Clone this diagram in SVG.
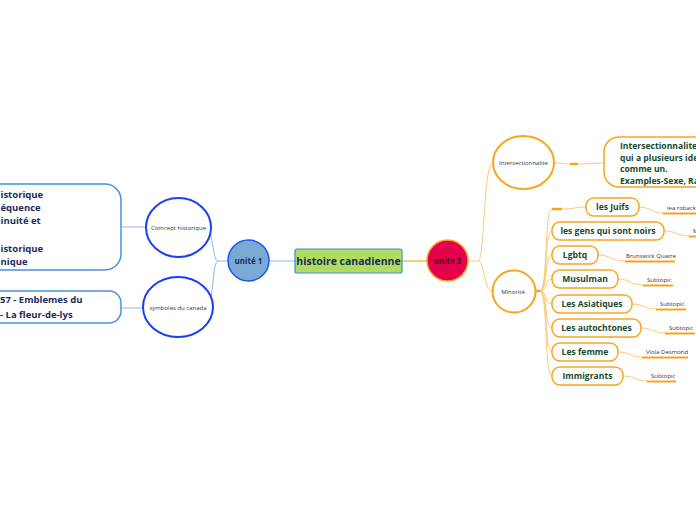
<svg xmlns="http://www.w3.org/2000/svg" width="696" height="520" viewBox="0 0 696 520">
<style>
.t{font-family:"Open Sans","Noto Sans","Liberation Sans",sans-serif}
.navy{fill:#1b2b5c;font-weight:bold}
.grn{fill:#184a2d;font-weight:bold;font-size:8.6px}
.small{fill:#333;font-size:6px}
.bl{fill:none;stroke:#8fb4f2;stroke-width:1}
.or{fill:none;stroke:#fcc878;stroke-width:1}
.orT{fill:none;stroke:#f7a21e;stroke-width:2.5}
.ul{fill:none;stroke:#f7a21e;stroke-width:2}
.ob{fill:#fff;stroke:#f7a520;stroke-width:1.5}
.be{fill:#fff;stroke:#1a3ef5;stroke-width:2}
.lb{fill:#fff;stroke:#4a8fd8;stroke-width:1.5}
</style>
<rect width="696" height="520" fill="#fff"/>
<g id="connectors">
  <path class="bl" d="M270,261 L295,261"/>
  <path class="bl" d="M228,261 L218,261 C212,261 214,228 205,228"/>
  <path class="bl" d="M218,261 C212,261 214,307 206,307"/>
  <path class="bl" d="M121,227 L146,227"/>
  <path class="bl" d="M121,308 L143,308"/>
  <path d="M402,261 L427,261" fill="none" stroke="#f8b450" stroke-width="1.5"/>
  <path class="or" d="M468,261 L478,261 C485,261 483,163 493,163"/>
  <path class="or" d="M478,261 C485,261 483,291 493,291"/>
  <path class="or" d="M554,163 C562,163 562,164 570,164 L578,164 C590,164 594,163 604,163"/>
  <path class="orT" d="M570,164 L578,164" stroke-width="3"/>
  <path class="orT" d="M534,291 L541,291"/>
  <path class="or" d="M540,291 C548,291 544,209 552,209 L562,209 C574,209 576,207 586,207"/>
  <path class="orT" d="M552,209 L562,209"/>
  <path class="or" d="M540,291 C548,291 544,231 552,231"/>
  <path class="or" d="M540,291 C548,291 544,255 552,255"/>
  <path class="or" d="M540,291 C548,291 544,279 552,279"/>
  <path class="or" d="M540,291 C548,291 544,304 552,304"/>
  <path class="or" d="M540,291 C548,291 544,328 552,328"/>
  <path class="or" d="M540,291 C548,291 544,352 552,352"/>
  <path class="or" d="M540,291 C548,291 544,376 552,376"/>
  <path class="or" d="M639,207 C651,207 651,213 663,213"/>
  <path class="or" d="M664,231 C677,231 677,236 689,236"/>
  <path class="or" d="M598,255 C611,255 611,261 625,261"/>
  <path class="or" d="M618,279 C630,279 630,285 643,285"/>
  <path class="or" d="M632,304 C644,304 644,309 656,309"/>
  <path class="or" d="M641,328 C653,328 653,333 665,333"/>
  <path class="or" d="M618,352 C630,352 630,357 642,357"/>
  <path class="or" d="M623,376 C635,376 635,381 647,381"/>
</g>
<g id="central">
  <rect x="295" y="249" width="107" height="24" rx="2" fill="#b0dd5f" stroke="#3b8ed6" stroke-width="1.2"/>
  <text class="t navy" x="348.5" y="264.8" font-size="10.5" text-anchor="middle">histoire canadienne</text>
</g>
<g id="unite1">
  <circle cx="248.5" cy="260.5" r="20.5" fill="#7aa9d3" stroke="#1f55f0" stroke-width="1.5"/>
  <text class="t navy" x="248.5" y="263.5" font-size="8" text-anchor="middle">unité 1</text>
</g>
<g id="concept">
  <ellipse class="be" cx="178.5" cy="227.5" rx="32.5" ry="29.5"/>
  <text class="t small" x="178.5" y="230" text-anchor="middle">Comcept historique</text>
</g>
<g id="symboles">
  <ellipse class="be" cx="178" cy="307" rx="35" ry="30"/>
  <text class="t small" x="178" y="309.5" text-anchor="middle">symboles du canada</text>
</g>
<g id="box-concept">
  <rect class="lb" x="-20" y="184" width="141" height="86" rx="16"/>
  <text class="t navy" font-size="9.5">
    <tspan x="0.5" y="197.5">istorique</tspan>
    <tspan x="0.5" y="210.8">équence</tspan>
    <tspan x="0.5" y="224">inuité et</tspan>
    <tspan x="0.5" y="251.5">istorique</tspan>
    <tspan x="0.5" y="264.7">nique</tspan>
  </text>
</g>
<g id="box-symboles">
  <rect class="lb" x="-20" y="291" width="141" height="32" rx="12"/>
  <text class="t navy" font-size="9.5">
    <tspan x="0" y="303.2">57 - Emblemes du</tspan>
    <tspan x="0" y="317.5">- La fleur-de-lys</tspan>
  </text>
</g>
<g id="unite2">
  <circle cx="447.5" cy="260.5" r="20.5" fill="#e6004b" stroke="#f9a72b" stroke-width="1.5"/>
  <text class="t" x="447.5" y="263.5" font-size="8" font-weight="bold" fill="#3b1414" text-anchor="middle">unité 2</text>
</g>
<g id="intersectionnalite">
  <ellipse cx="523.5" cy="162.5" rx="30.5" ry="26.5" fill="#fff" stroke="#f7a520" stroke-width="2"/>
  <text class="t small" x="523.5" y="165" text-anchor="middle">Intersectionnalite</text>
</g>
<g id="box-intersection">
  <rect class="ob" x="604" y="137" width="110" height="50" rx="15"/>
  <text class="t grn">
    <tspan x="620" y="149">Intersectionnalite c</tspan>
    <tspan x="620" y="160.5">qui a plusieurs ider</tspan>
    <tspan x="620" y="172">comme un.</tspan>
    <tspan x="620" y="183.5">Examples-Sexe, Rac</tspan>
  </text>
</g>
<g id="minorite">
  <ellipse cx="514" cy="291.5" rx="21.5" ry="21" fill="#fff" stroke="#f7a520" stroke-width="2"/>
  <text class="t small" x="513" y="293.5" text-anchor="middle">Minorité</text>
</g>
<g id="juifs">
  <rect class="ob" x="586" y="198" width="53" height="18" rx="8"/>
  <text class="t grn" x="612.5" y="210" text-anchor="middle">les Juifs</text>
</g>
<g id="noirs">
  <rect class="ob" x="552" y="222" width="112" height="18" rx="8"/>
  <text class="t grn" x="608" y="234" text-anchor="middle">les gens qui sont noirs</text>
</g>
<g id="lgbtq">
  <rect class="ob" x="552" y="246" width="46" height="18" rx="8"/>
  <text class="t grn" x="575" y="258" text-anchor="middle">Lgbtq</text>
</g>
<g id="musulman">
  <rect class="ob" x="552" y="270" width="66" height="18" rx="8"/>
  <text class="t grn" x="585" y="282" text-anchor="middle">Musulman</text>
</g>
<g id="asiatiques">
  <rect class="ob" x="552" y="295" width="80" height="18" rx="8"/>
  <text class="t grn" x="592" y="307" text-anchor="middle">Les Asiatiques</text>
</g>
<g id="autochtones">
  <rect class="ob" x="552" y="319" width="89" height="18" rx="8"/>
  <text class="t grn" x="596.5" y="331" text-anchor="middle">Les autochtones</text>
</g>
<g id="femme">
  <rect class="ob" x="552" y="343" width="66" height="18" rx="8"/>
  <text class="t grn" x="585" y="355" text-anchor="middle">Les femme</text>
</g>
<g id="immigrants">
  <rect class="ob" x="552" y="367" width="71" height="18" rx="8"/>
  <text class="t grn" x="587.5" y="379" text-anchor="middle">Immigrants</text>
</g>
<g id="leaf-juifs">
  <path class="ul" d="M663,213.5 L700,213.5"/>
  <text class="t small" x="667" y="210">lea roback</text>
</g>
<g id="leaf-noirs">
  <path class="ul" d="M689,236.5 L700,236.5"/>
  <text class="t small" x="693" y="233">M</text>
</g>
<g id="leaf-lgbtq">
  <path class="ul" d="M625,261.5 L675,261.5"/>
  <text class="t small" x="626" y="258">Brunswick Quatre</text>
</g>
<g id="leaf-musulman">
  <path class="ul" d="M643,285.5 L673,285.5"/>
  <text class="t small" x="647" y="282">Subtopic</text>
</g>
<g id="leaf-asiatiques">
  <path class="ul" d="M656,309.5 L686,309.5"/>
  <text class="t small" x="660" y="306">Subtopic</text>
</g>
<g id="leaf-autochtones">
  <path class="ul" d="M665,333.5 L695,333.5"/>
  <text class="t small" x="669" y="330">Subtopic</text>
</g>
<g id="leaf-femme">
  <path class="ul" d="M642,357.5 L688,357.5"/>
  <text class="t small" x="646" y="354">Viola Desmond</text>
</g>
<g id="leaf-immigrants">
  <path class="ul" d="M647,381.5 L676,381.5"/>
  <text class="t small" x="651" y="378">Subtopic</text>
</g>
</svg>
